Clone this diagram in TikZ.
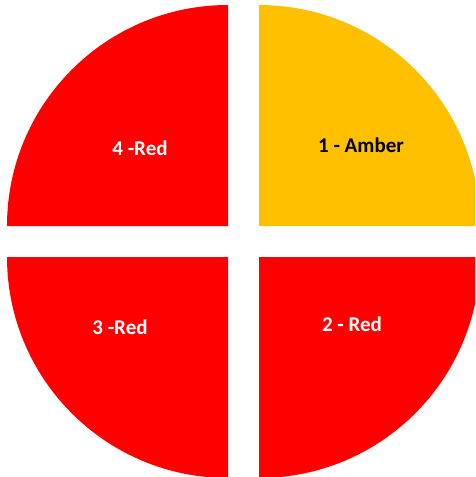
\documentclass[tikz,border=0pt]{standalone}
\usepackage{fontspec}
\setmainfont{Carlito}
\definecolor{qred}{HTML}{FF0000}
\definecolor{qamber}{HTML}{FFC000}
\begin{document}
\begin{tikzpicture}[x=1pt,y=-1pt,
  lbl/.style={font=\bfseries\fontsize{21}{25}\selectfont, inner sep=0pt}]
\useasboundingbox (0,0) rectangle (475,477);
\clip (0,0) rectangle (475,477);
% top-left
\fill[qred] (228,226) -- (7,226) arc[start angle=180, end angle=270, radius=221] -- cycle;
% top-right
\fill[qamber] (259,226) -- (259,5) arc[start angle=-90, end angle=0, radius=221] -- cycle;
% bottom-left
\fill[qred] (228,257) -- (7,257) arc[start angle=180, end angle=90, radius=221] -- cycle;
% bottom-right
\fill[qred] (259,257) -- (259,478) arc[start angle=90, end angle=0, radius=221] -- cycle;
\node[lbl, text=white] (q4) at (140,148) {4 -Red};
\node[lbl, text=black] (q1) at (361,145) {1 - Amber};
\node[lbl, text=white] (q3) at (120,327) {3 -Red};
\node[lbl, text=white] (q2) at (352,324) {2 - Red};
\end{tikzpicture}
\end{document}
